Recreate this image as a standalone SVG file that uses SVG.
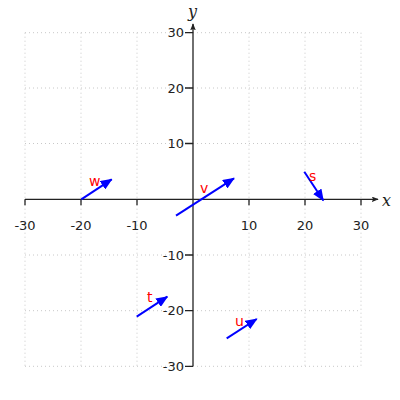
<svg xmlns="http://www.w3.org/2000/svg" width="400" height="400" viewBox="0 0 400 400">
<style>
.grid{stroke:#c8c8c8;stroke-width:1;stroke-dasharray:1,3;fill:none}
.axis{stroke:#222;stroke-width:1.3;fill:none}
.tick{font-family:"DejaVu Sans",sans-serif;font-size:13px;fill:#222}
.vec{stroke:#0000ff;stroke-width:2;fill:none;marker-end:url(#ah)}
.lbl{font-family:"DejaVu Sans",sans-serif;font-size:14px;fill:#ff0000}
.ax{font-family:"DejaVu Serif",serif;font-style:italic;font-size:16px;fill:#222}
</style>
<defs>
<marker id="ah" viewBox="0 0 12 10" refX="11" refY="5" markerWidth="6" markerHeight="5" orient="auto">
<path d="M0,0 L12,5 L0,10 Z" fill="#0000ff"/>
</marker>
<marker id="axh" viewBox="0 0 10 8" refX="9" refY="4" markerWidth="7" markerHeight="5.6" markerUnits="userSpaceOnUse" orient="auto">
<path d="M0,0 L10,4 L0,8 L2,4 Z" fill="#222"/>
</marker>
</defs>
<g id="grid">
<path class="grid" d="M25,32.7V366.3M81,32.7V366.3M137,32.7V366.3M249,32.7V366.3M305,32.7V366.3M361,32.7V366.3"/>
<path class="grid" d="M25,32.7H361M25,88H361M25,143.5H361M25,255H361M25,310.7H361M25,366.3H361"/>
</g>
<g id="axes">
<path class="axis" d="M25,199.3H378" marker-end="url(#axh)"/>
<path class="axis" d="M193,366.3V24" marker-end="url(#axh)"/>
<path class="axis" d="M25,199.3v6M81,199.3v6M137,199.3v6M249,199.3v6M305,199.3v6M361,199.3v6"/>
<path class="axis" d="M193,32.7h-8M193,88h-8M193,143.5h-8M193,255h-8M193,310.7h-8M193,366.3h-8"/>
<text class="ax" x="382" y="206">x</text>
<text class="ax" x="188" y="17">y</text>
<g class="tick" text-anchor="middle">
<text x="25" y="230">-30</text>
<text x="81" y="230">-20</text>
<text x="137" y="230">-10</text>
<text x="249" y="230">10</text>
<text x="305" y="230">20</text>
<text x="361" y="230">30</text>
</g>
<g class="tick" text-anchor="end">
<text x="184" y="37.2">30</text>
<text x="184" y="92.5">20</text>
<text x="184" y="148">10</text>
<text x="184" y="259.5">-10</text>
<text x="184" y="315.2">-20</text>
<text x="184" y="370.8">-30</text>
</g>
</g>
<g id="connectors">
<line class="vec" x1="176" y1="215.7" x2="234" y2="178.3"/>
<line class="vec" x1="304.3" y1="171.7" x2="323.3" y2="200.5"/>
<line class="vec" x1="81.3" y1="199.3" x2="111.7" y2="179.3"/>
<line class="vec" x1="136.7" y1="316.7" x2="167.3" y2="296.7"/>
<line class="vec" x1="226.7" y1="338.3" x2="256.7" y2="319"/>
</g>
<g id="v"><text class="lbl" x="200" y="193">v</text></g>
<g id="s"><text class="lbl" x="309" y="181">s</text></g>
<g id="w"><text class="lbl" x="89" y="186">w</text></g>
<g id="t"><text class="lbl" x="147" y="302">t</text></g>
<g id="u"><text class="lbl" x="235" y="326">u</text></g>
</svg>
